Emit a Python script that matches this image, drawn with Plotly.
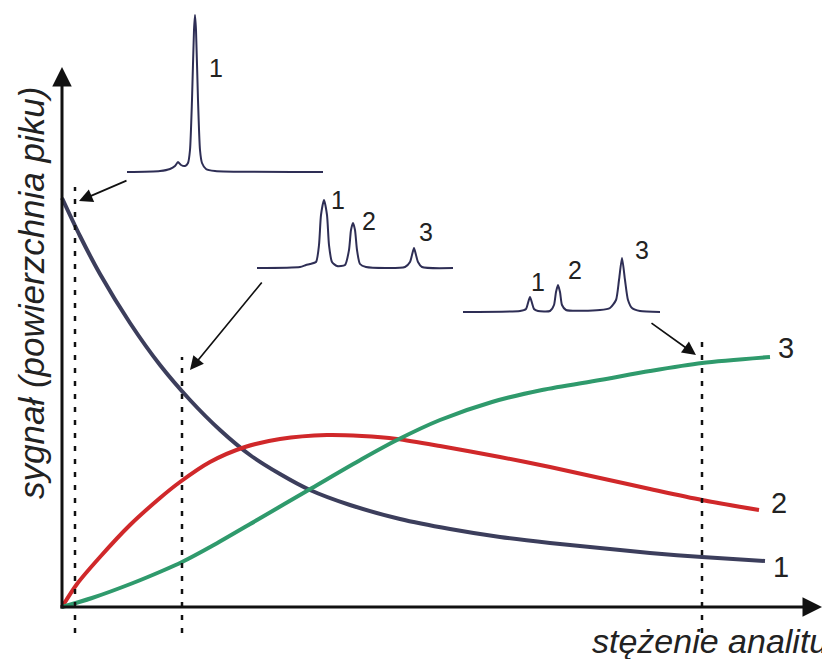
import plotly.graph_objects as go

# ---- calibration curves (concentration units, signal units) ----
conc1 = [0, 18, 38, 68, 98, 128, 158, 188, 218, 248, 288, 338, 388, 438, 488, 538, 588, 640, 703]
sig1 = [409, 371, 333, 284, 242, 207, 177, 152, 133, 117, 102, 88, 78, 70, 64, 59, 54, 50, 46]
conc2 = [0, 15, 38, 68, 98, 118, 148, 183, 218, 265, 300, 335, 378, 438, 488, 538, 588, 640, 697]
sig2 = [0, 23, 50, 82, 109, 125, 145, 160, 168, 172, 171, 168, 161, 150, 140, 129, 118, 107, 97]
conc3 = [0, 30, 71, 100, 120, 150, 195, 250, 300, 335, 378, 430, 480, 538, 588, 640, 708]
sig3 = [0, 9, 24, 36, 45, 61, 87, 119, 148, 167, 187, 205, 217, 227, 236, 244, 250]

curve_colors = ["#3c3e5c", "#d0282a", "#2f9a6c"]
curve_labels = ["1", "2", "3"]
curve_label_x = [719, 717, 724]
curve_label_y = [37, 101, 256]

# ---- inset chromatograms (drawn in the same frame) ----
chromA_x = [65, 98, 108, 113, 116, 119, 123, 126, 128, 130, 132, 133, 134, 136, 138, 140, 144, 153, 261]
chromA_y = [435, 436, 438, 441, 445, 442, 441, 444, 457, 507, 577, 592, 577, 507, 457, 444, 438, 436, 435]
chromB_x = [195, 238, 244, 248, 254, 257, 259, 262, 265, 267, 270, 275, 283, 287, 289, 291, 293, 295,
            298, 304, 343, 348, 350, 352, 354, 356, 360, 391]
chromB_y = [339, 340, 342, 343, 345, 362, 392, 407, 392, 362, 345, 341, 342, 357, 377, 384, 377, 357,
            343, 340, 340, 345, 352, 359, 352, 345, 340, 339]
chromC_x = [401, 458, 464, 466, 468, 470, 472, 476, 488, 492, 494, 496, 498, 500, 504, 538, 548, 554,
            557, 560, 563, 566, 570, 578, 598]
chromC_y = [295, 296, 298, 304, 310, 304, 298, 296, 296, 302, 315, 322, 315, 302, 297, 297, 299, 307,
            327, 349, 327, 307, 299, 296, 295]

peak_label_text = ["1", "1", "2", "3", "1", "2", "3"]
peak_label_x = [154, 276, 307, 364, 476, 513, 580]
peak_label_y = [536, 404, 383, 372, 322, 334, 354]

# sampled concentrations (dotted lines) and arrows pointing to them
sample_x = [13, 120, 640]
sample_top = [420, 250, 268]
sample_bottom = -26
arrow_tail_x = [66, 201, 588]
arrow_tail_y = [427, 326, 285]
arrow_tip_x = [17, 128, 634]
arrow_tip_y = [406, 237, 252]

FONT = "Liberation Sans, Arial, sans-serif"
fig = go.Figure()

for cx, cy, col in [(conc1, sig1, curve_colors[0]), (conc2, sig2, curve_colors[1]), (conc3, sig3, curve_colors[2])]:
    fig.add_trace(go.Scatter(x=cx, y=cy, mode="lines",
                             line=dict(color=col, width=4, shape="spline", smoothing=0.8),
                             hoverinfo="skip"))

for cx, cy in [(chromA_x, chromA_y), (chromB_x, chromB_y), (chromC_x, chromC_y)]:
    fig.add_trace(go.Scatter(x=cx, y=cy, mode="lines",
                             line=dict(color="#2e2e55", width=2, shape="spline", smoothing=0.6),
                             hoverinfo="skip"))

fig.add_trace(go.Scatter(x=curve_label_x, y=curve_label_y, mode="text",
                         text=curve_labels, textfont=dict(size=29, color="#222222", family=FONT),
                         hoverinfo="skip"))
fig.add_trace(go.Scatter(x=peak_label_x, y=peak_label_y, mode="text",
                         text=peak_label_text, textfont=dict(size=25, color="#222222", family=FONT),
                         hoverinfo="skip"))

shapes = []
for sx, st in zip(sample_x, sample_top):
    shapes.append(dict(type="line", x0=sx, x1=sx, y0=sample_bottom, y1=st, xref="x", yref="y",
                       line=dict(color="#111111", width=2.5, dash="5px,8px")))

annotations = []
# axes with arrows
annotations.append(dict(x=0, y=540, ax=0, ay=-3, xref="x", yref="y", axref="x", ayref="y",
                        showarrow=True, arrowhead=2, arrowsize=1.3, arrowwidth=3, arrowcolor="#111111", text=""))
annotations.append(dict(x=760, y=0, ax=-3, ay=0, xref="x", yref="y", axref="x", ayref="y",
                        showarrow=True, arrowhead=2, arrowsize=1.3, arrowwidth=3, arrowcolor="#111111", text=""))
for tx, ty, hx, hy in zip(arrow_tail_x, arrow_tail_y, arrow_tip_x, arrow_tip_y):
    annotations.append(dict(x=hx, y=hy, ax=tx, ay=ty, xref="x", yref="y", axref="x", ayref="y",
                            showarrow=True, arrowhead=2, arrowsize=1.6, arrowwidth=1.7,
                            arrowcolor="#111111", text=""))

annotations.append(dict(x=-31, y=314, xref="x", yref="y", text="<i>sygnał (powierzchnia piku)</i>",
                        textangle=-90, showarrow=False,
                        font=dict(size=35, color="#222222", family=FONT)))
annotations.append(dict(x=528, y=-34, xref="x", yref="y", text="<i>stężenie analitu</i>",
                        xanchor="left", yanchor="middle", showarrow=False,
                        font=dict(size=34, color="#222222", family=FONT)))

fig.update_layout(
    width=822, height=659,
    margin=dict(l=0, r=0, t=0, b=0),
    paper_bgcolor="white", plot_bgcolor="white",
    showlegend=False,
    xaxis=dict(range=[-62, 760], visible=False, fixedrange=True),
    yaxis=dict(range=[-52, 607], visible=False, fixedrange=True),
    shapes=shapes, annotations=annotations,
)

fig.write_html("out.html")
